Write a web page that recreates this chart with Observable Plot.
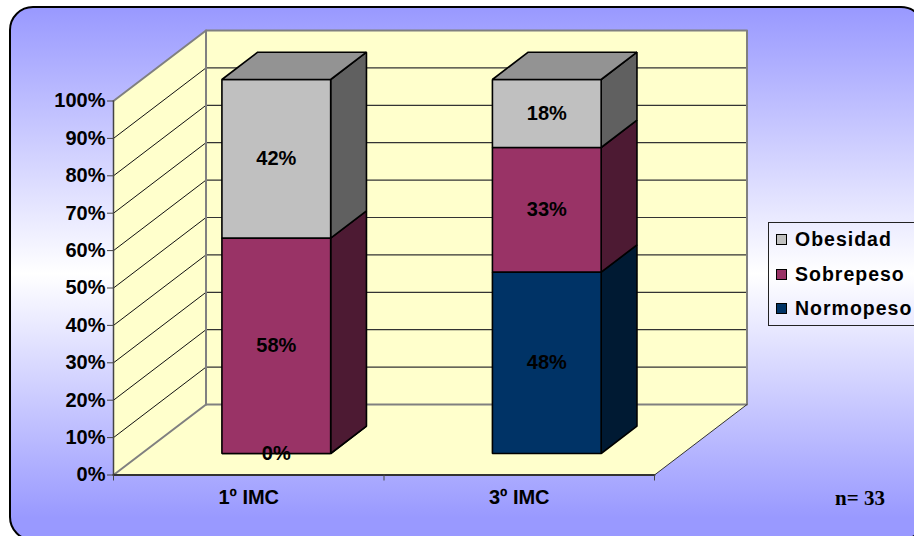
<!DOCTYPE html>
<html lang="es">
<head>
<meta charset="utf-8">
<script src="https://cdn.jsdelivr.net/npm/d3@7"></script>
<script src="https://cdn.jsdelivr.net/npm/@observablehq/plot@0.6"></script>
<style>
  html, body { margin: 0; padding: 0; background: #fff; }
  #page { position: relative; width: 914px; height: 536px; overflow: hidden; font-family: "Liberation Sans", Arial, sans-serif; }
  #panel { position: absolute; left: 8.5px; top: 6px; width: 916px; height: 535px; box-sizing: border-box;
           border: 2.5px solid #000; border-radius: 24px;
           background: linear-gradient(#9999ff 0%, #ffffff 50%, #9999ff 96%); }
  #chart { position: absolute; left: 0; top: 0; }
  #chart svg { background: transparent; display: block; }
  #legend { position: absolute; left: 768px; top: 222px; width: 160px; height: 104px; box-sizing: border-box;
            border: 1px solid #222; }
  .row { position: absolute; left: 0; height: 20px; font-weight: bold; font-size: 19.5px; line-height: 20px; letter-spacing: 1px; color: #000; white-space: nowrap; }
  .key { position: absolute; left: 7px; top: 5px; width: 11px; height: 11px; box-sizing: border-box; border: 1.5px solid #000; }
  .lab { position: absolute; left: 26px; top: 0; }
  #note { position: absolute; left: 835px; top: 486px; font: bold 21px "Liberation Serif", "Times New Roman", serif; color: #000; }
</style>
</head>
<body>
<div id="page">
  <div id="panel"></div>
  <div id="chart"></div>
  <div id="legend"></div>
  <div id="note">n= 33</div>
</div>
<script>
// Body-mass-index groups at two visits, 33 patients
const visits = ["1º IMC", "3º IMC"];
const total = 33;
const normopeso = [0, 16];
const sobrepeso = [19, 11];
const obesidad = [14, 6];
const seriesNames = ["Normopeso", "Sobrepeso", "Obesidad"];
const seriesValues = [normopeso, sobrepeso, obesidad];
const frontColors = ["#003366", "#993366", "#c0c0c0"];
const sideColors = ["#001a33", "#4d1a33", "#606060"];
const topColors = ["#002244", "#7a2952", "#939393"];
const percentTicks = [0, 10, 20, 30, 40, 50, 60, 70, 80, 90, 100];

// Oblique projection: depth 0..1 shifts a point along both value axes
const depthX = 0.342;
const depthY = 18.85;
const project = (x, y, d) => ({x: x + depthX * d, y: y + depthY * d});
const poly = (pts) => pts.map(([x, y, d]) => project(x, y, d));

const barWidth = 0.402;
const barCentre = 0.4975;
const barNear = 0.305;
const barFar = 0.692;

const wallFill = "#ffffcc";
const edgeGray = "#808080";

const face = (pts, fill, stroke = "#000", strokeWidth = 1.6) =>
  Plot.line(poly(pts), {x: "x", y: "y", fill, stroke, strokeWidth, curve: "linear-closed", strokeLinejoin: "miter"});
const edge = (pts, stroke, strokeWidth) =>
  Plot.line(poly(pts), {x: "x", y: "y", stroke, strokeWidth});

// Back wall, side wall and floor
const room = [
  face([[0, 0, 0], [0, 0, 1], [0, 100, 1], [0, 100, 0]], wallFill, "none", 0),
  face([[0, 0, 1], [2, 0, 1], [2, 100, 1], [0, 100, 1]], wallFill, "none", 0),
  face([[0, 0, 0], [2, 0, 0], [2, 0, 1], [0, 0, 1]], wallFill, "none", 0)
];

// Gridlines run along the side wall and across the back wall
const grid = percentTicks.slice(1, -1).flatMap((p) => [
  edge([[0, p, 0], [0, p, 1]], "#111", 1),
  edge([[0, p, 1], [2, p, 1]], "#333", 1.2)
]);

const frame = [
  edge([[0, 100, 0], [0, 100, 1], [2, 100, 1], [2, 0, 1], [0, 0, 1]], edgeGray, 2),
  edge([[0, 0, 1], [0, 100, 1]], edgeGray, 2),
  edge([[0, 0, 0], [0, 0, 1]], edgeGray, 2),
  edge([[2, 0, 0], [2, 0, 1]], "#333", 1),
  edge([[0, 0, 0], [0, 100, 0]], "#444", 1.5),
  edge([[0, 0, 0], [2, 0, 0]], "#333", 2)
];

// Stacked bars: each series is a front face, a side face and, for the top one, a lid
const bars = [];
const labels = [];
visits.forEach((visit, i) => {
  const left = i + barCentre - barWidth / 2;
  const right = i + barCentre + barWidth / 2;
  let base = 0;
  seriesValues.forEach((values, s) => {
    const share = 100 * values[i] / total;
    const top = base + share;
    bars.push(face([[right, base, barNear], [right, base, barFar], [right, top, barFar], [right, top, barNear]], sideColors[s]));
    bars.push(face([[left, base, barNear], [right, base, barNear], [right, top, barNear], [left, top, barNear]], frontColors[s]));
    if (s === seriesValues.length - 1) {
      bars.push(face([[left, top, barNear], [right, top, barNear], [right, top, barFar], [left, top, barFar]], topColors[s]));
    }
    labels.push({...project(i + barCentre, base + share / 2, barNear), text: `${Math.round(share)}%`});
    base = top;
  });
});

const chart = Plot.plot({
  width: 914,
  height: 536,
  marginLeft: 113,
  marginRight: 260,
  marginTop: 100.5,
  marginBottom: 61.5,
  style: {background: "transparent", fontFamily: "'Liberation Sans', Arial, sans-serif", overflow: "visible"},
  x: {domain: [0, 2]},
  y: {domain: [0, 100]},
  marks: [
    ...room,
    ...grid,
    ...frame,
    ...bars,
    Plot.text(labels, {x: "x", y: "y", text: "text", fontSize: 20, fontWeight: "bold", fill: "#000"}),
    Plot.axisY({ticks: percentTicks, tickFormat: (d) => `${d}%`, tickSize: 6, tickPadding: 2, fontSize: 20, fontWeight: "bold", color: "#000", stroke: "#444", label: null, textStroke: "none"}),
    Plot.axisX({ticks: [0, 1, 2], tickFormat: () => "", tickSize: 6, stroke: "#444", label: null}),
    Plot.axisX({ticks: [0.5, 1.5], tickFormat: (d) => visits[Math.floor(d)], tickSize: 0, tickPadding: 15, fontSize: 20, fontWeight: "bold", color: "#000", label: null})
  ]
});
document.getElementById("chart").append(chart);

// Legend lists the stack from top to bottom
const legend = document.getElementById("legend");
const rowTops = [6, 41, 75];
[2, 1, 0].forEach((s, n) => {
  const row = document.createElement("div");
  row.className = "row";
  row.style.top = rowTops[n] + "px";
  const key = document.createElement("span");
  key.className = "key";
  key.style.background = frontColors[s];
  const lab = document.createElement("span");
  lab.className = "lab";
  lab.textContent = seriesNames[s];
  row.append(key, lab);
  legend.append(row);
});
</script>
</body>
</html>
